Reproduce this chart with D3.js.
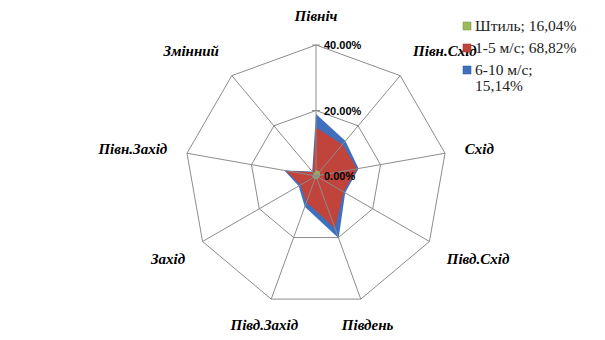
<!DOCTYPE html>
<html><head><meta charset="utf-8">
<script src="https://cdn.jsdelivr.net/npm/d3@7"></script>
<style>html,body{margin:0;padding:0;background:#fff;}svg{display:block;}</style>
</head><body>
<svg id="c" width="605" height="340"></svg>
<script>
const categories = ['Північ','Півн.Схід','Схід','Півд.Схід','Південь','Півд.Захід','Захід','Півн.Захід','Змінний'];
const shtil = [1.8,1.8,1.2,1.0,1.0,1.0,1.0,1.0,1.0];
const m1_5  = [14.8,12.6,12.7,9.7,17.0,8.5,5.5,9.3,1.5];
const m6_10 = [18.9,14.0,13.2,10.3,20.2,10.0,6.1,9.8,1.8];
const tickValues = [0,20,40];
const tickLabels = ['0.00%','20.00%','40.00%'];
const seriesNames = ['Штиль; 16,04%','1-5 м/с; 68,82%','6-10 м/с;|15,14%'];
const colors = ['#9BBB59','#C0433C','#3F70BE'];

const svg = d3.select('#c');
const cx = 316, cy = 176, R = 131;
const r = d3.scaleLinear().domain([0,40]).range([0,R]);
const ang = d3.scaleLinear().domain([0,categories.length]).range([0,2*Math.PI]);
const pt = (i,v) => [cx + Math.sin(ang(i))*r(v), cy - Math.cos(ang(i))*r(v)];

const line = d3.line().curve(d3.curveLinearClosed);
const series = [m6_10, m1_5, shtil];
const scol = [colors[2], colors[1], colors[0]];
series.forEach((s,k)=>{
  svg.append('path').attr('d', line(s.map((v,i)=>pt(i,v))))
    .attr('fill', scol[k]).attr('stroke', 'none');
});

// grid
const g = svg.append('g').attr('stroke','#8c8c8c').attr('stroke-width',1).attr('fill','none');
tickValues.filter(t=>t>0).forEach(t=>{
  g.append('path').attr('d', line(categories.map((c,i)=>pt(i,t))));
});
categories.forEach((c,i)=>{
  const p = pt(i,40);
  g.append('line').attr('x1',cx).attr('y1',cy).attr('x2',p[0]).attr('y2',p[1]);
});
// tick marks and labels
tickValues.forEach((t,j)=>{
  const y = cy - r(t);
  svg.append('line').attr('x1',cx-4).attr('x2',cx+4).attr('y1',y).attr('y2',y).attr('stroke','#8c8c8c');
  svg.append('text').attr('x',cx+8).attr('y',y+4).text(tickLabels[j])
    .attr('font-family','Liberation Sans, Arial, sans-serif').attr('font-weight','bold')
    .attr('font-size',11).attr('fill','#000');
});

// category labels
categories.forEach((c,i)=>{
  const a = ang(i);
  const p = pt(i,40+20*40/R);
  const s = Math.sin(a), co = Math.cos(a);
  const anchor = s>0.5 ? 'start' : (s<-0.5 ? 'end' : 'middle');
  const dy = co>0.3 ? -9 : (co<-0.3 ? 7 : -1);
  svg.append('text').attr('x',p[0]).attr('y',p[1]+dy+5).attr('text-anchor',anchor)
    .attr('font-family','Liberation Serif, Times New Roman, serif').attr('font-style','italic')
    .attr('font-weight','bold').attr('font-size',15).attr('fill','#000').text(c);
});

// legend
const lg = svg.append('g').attr('transform','translate(463,0)');
const ly = [26,48,70];
seriesNames.forEach((n,k)=>{
  lg.append('rect').attr('x',0).attr('y',ly[k]-4).attr('width',8).attr('height',8)
    .attr('fill',colors[k]).attr('stroke',d3.color(colors[k]).darker(0.8)).attr('stroke-width',0.5);
  const parts = n.split('|');
  parts.forEach((p,q)=>{
    lg.append('text').attr('x',12).attr('y',ly[k]+5+q*16).text(p)
      .attr('font-family','Liberation Serif, Times New Roman, serif').attr('font-size',15.5).attr('fill','#222');
  });
});
</script>
</body></html>
